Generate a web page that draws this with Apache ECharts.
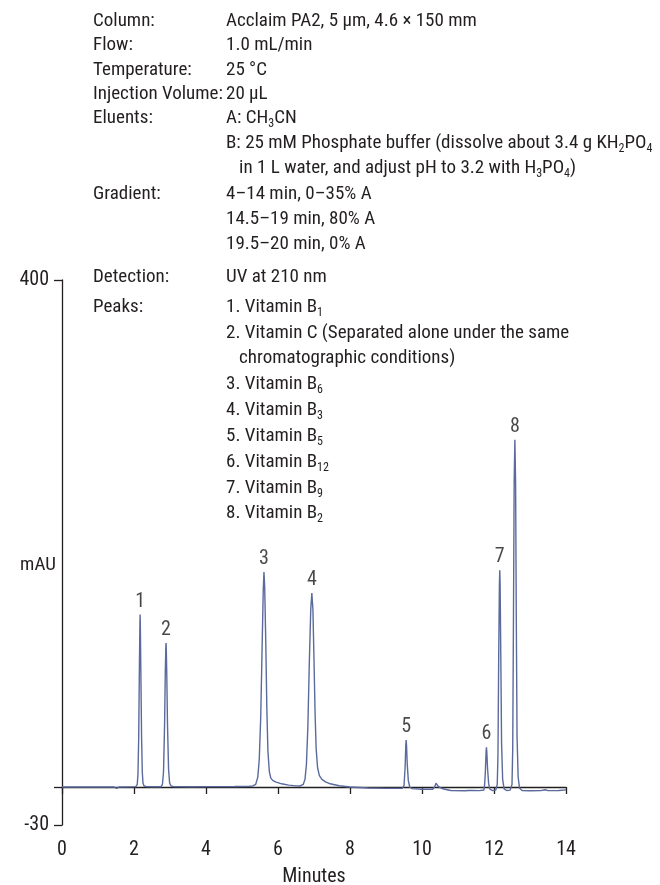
<!DOCTYPE html>
<html>
<head>
<meta charset="utf-8">
<style>
  html, body { margin: 0; padding: 0; background: #fff; }
  #chart { width: 660px; height: 885px; }
</style>
<script src="https://cdn.jsdelivr.net/npm/echarts@6/dist/echarts.min.js"></script>
</head>
<body>
<div id="chart"></div>
<script>
// Chromatogram of water-soluble vitamins, absorbance (mAU) vs retention time (min)

const xTicks = [0, 2, 4, 6, 8, 10, 12, 14];
const yTicks = [-30, 0, 400];
const yTickLabels = [-30, 400];

const peakNumbers = ['1', '2', '3', '4', '5', '6', '7', '8'];
const peakTimes = [2.17, 2.89, 5.61, 6.94, 9.56, 11.79, 12.16, 12.58];
const peakHeights = [136, 113.5, 169.5, 153, 37, 31.3, 171, 274];

// detector trace: [minutes, mAU]
const trace = [
  [0, 0], [0.5, 0], [1.0, 0], [1.45, 0], [1.52, -1.2], [1.58, 0], [1.9, 0.1], [2.05, 0.3],
  [2.09, 2], [2.11, 10], [2.13, 38], [2.15, 95], [2.165, 130], [2.17, 136], [2.175, 130],
  [2.19, 92], [2.21, 40], [2.23, 12], [2.25, 3], [2.28, 0.8], [2.35, 0.3],
  [2.5, 0.2], [2.75, 0.2], [2.79, 2], [2.82, 12], [2.85, 50], [2.87, 92], [2.885, 111],
  [2.89, 113.5], [2.895, 111], [2.91, 90], [2.93, 50], [2.96, 14], [2.99, 3], [3.03, 0.8],
  [3.1, 0.3], [3.6, 0.2], [4.2, 0.3], [4.8, 0.4], [5.2, 0.6], [5.25, 1.4], [5.3, 0.8],
  [5.38, 2], [5.44, 8], [5.48, 22], [5.52, 55], [5.56, 112], [5.59, 155], [5.61, 169.5],
  [5.63, 158], [5.66, 115], [5.69, 62], [5.72, 28], [5.76, 12], [5.8, 7], [5.86, 5],
  [5.95, 3.8], [6.1, 2.5], [6.3, 1.5], [6.5, 0.9], [6.62, 0.8],
  [6.7, 2], [6.75, 6], [6.79, 18], [6.83, 48], [6.87, 98], [6.91, 140], [6.94, 153],
  [6.97, 140], [7.0, 100], [7.03, 58], [7.06, 30], [7.1, 15], [7.15, 9], [7.22, 6],
  [7.32, 4], [7.45, 2.5], [7.7, 1], [8.0, 0], [8.5, -0.8], [9.0, -1.1], [9.45, -1.1],
  [9.5, 1], [9.53, 15], [9.55, 33], [9.56, 37], [9.57, 33], [9.59, 18], [9.62, 5],
  [9.66, 0], [9.72, -1.3], [10.0, -1.8], [10.3, -1.8], [10.35, 0], [10.39, 3],
  [10.43, 1.2], [10.5, -0.5], [10.6, -1.6], [10.8, -2.8], [11.2, -3], [11.3, -2.8],
  [11.33, -1.8], [11.36, -2.8], [11.6, -2.9], [11.72, -2.4],
  [11.74, 2], [11.76, 12], [11.78, 28], [11.79, 31.3], [11.8, 28], [11.82, 15],
  [11.85, 3], [11.88, -1.5], [11.95, -2.8], [12.05, -2.5],
  [12.09, 2], [12.11, 25], [12.13, 100], [12.15, 160], [12.16, 171], [12.17, 160],
  [12.19, 100], [12.21, 35], [12.24, 6], [12.28, -1.5], [12.35, -2.8], [12.45, -2.5],
  [12.5, 2], [12.52, 30], [12.54, 130], [12.56, 240], [12.58, 274], [12.6, 240],
  [12.62, 130], [12.64, 40], [12.67, 8], [12.71, -1], [12.78, -2.8], [13.0, -3],
  [13.3, -2.9], [13.42, -2.2], [13.5, -2.9], [13.8, -2.8], [14.0, -2.3]
];

// chromatographic conditions: [heading, text]; {s|…} marks a subscript
const conditions = [
  ['Column:', 'Acclaim PA2, 5 µm, 4.6 × 150 mm'],
  ['Flow:', '1.0 mL/min'],
  ['Temperature:', '25 °C'],
  ['Injection Volume:', '20 µL'],
  ['Eluents:', 'A: CH{s|3}CN'],
  ['', 'B: 25 mM Phosphate buffer (dissolve about 3.4 g KH{s|2}PO{s|4}'],
  ['', '   in 1 L water, and adjust pH to 3.2 with H{s|3}PO{s|4})'],
  ['Gradient:', '4–14 min, 0–35% A'],
  ['', '14.5–19 min, 80% A'],
  ['', '19.5–20 min, 0% A'],
  ['Detection:', 'UV at 210 nm'],
  ['Peaks:', '1. Vitamin B{s|1}'],
  ['', '2. Vitamin C (Separated alone under the same'],
  ['', '   chromatographic conditions)'],
  ['', '3. Vitamin B{s|6}'],
  ['', '4. Vitamin B{s|3}'],
  ['', '5. Vitamin B{s|5}'],
  ['', '6. Vitamin B{s|12}'],
  ['', '7. Vitamin B{s|9}'],
  ['', '8. Vitamin B{s|2}']
];

const FONT = "'Liberation Sans Narrow', 'Roboto Condensed', 'Liberation Sans', Roboto, sans-serif";
const INK = '#231f20';
const rowY = [21, 45, 70, 94, 118, 143, 168, 194, 219, 244, 277, 307, 333, 358, 384, 410, 436, 462, 488, 513];

function blockText(x, y, str) {
  return {
    type: 'text', x: x, y: y, silent: true,
    style: {
      text: str, font: '19px ' + FONT, fill: INK, verticalAlign: 'middle',
      lineHeight: 24,
      rich: {
        s: { fontSize: 12, fontFamily: FONT, fill: INK, verticalAlign: 'bottom', lineHeight: 24 }
      }
    }
  };
}

const textElements = [];
conditions.forEach(function (row, i) {
  if (row[0]) textElements.push(blockText(93, rowY[i], row[0]));
  textElements.push(blockText(226, rowY[i], row[1]));
});
const yName = blockText(38, 565, 'mAU');
yName.style.align = 'center';
textElements.push(yName);

const chart = echarts.init(document.getElementById('chart'), null, { renderer: 'canvas' });
chart.setOption({
  animation: false,
  backgroundColor: '#fff',
  grid: { left: 62, right: 94, top: 280, bottom: 60, containLabel: false, outerBoundsMode: 'none' },
  xAxis: {
    type: 'value', min: 0, max: 14, interval: 2,
    name: 'Minutes', nameLocation: 'middle', nameGap: 42,
    nameTextStyle: { fontFamily: FONT, fontSize: 20, color: INK },
    axisLine: { lineStyle: { color: INK, width: 1.3 } },
    axisTick: { show: true, length: 7, lineStyle: { color: INK, width: 1.3 }, customValues: xTicks },
    axisLabel: { fontFamily: FONT, fontSize: 20, color: INK, margin: 15, customValues: xTicks },
    splitLine: { show: false }
  },
  yAxis: {
    type: 'value', min: -30, max: 400,
    axisLine: { show: true, lineStyle: { color: INK, width: 1.3 } },
    axisTick: { show: true, length: 8, lineStyle: { color: INK, width: 1.3 }, customValues: yTicks },
    axisLabel: { fontFamily: FONT, fontSize: 20, color: INK, margin: 13, customValues: yTickLabels },
    splitLine: { show: false }
  },
  graphic: textElements,
  series: [
    {
      type: 'line', data: trace, showSymbol: false, symbol: 'none',
      lineStyle: { color: '#5a6a9c', width: 1.4 }, silent: true
    },
    {
      type: 'scatter', symbolSize: 0, silent: true,
      data: peakTimes.map(function (t, i) { return [t, peakHeights[i], peakNumbers[i]]; }),
      label: {
        show: true, position: 'top', distance: 3,
        formatter: function (p) { return p.value[2]; },
        fontFamily: FONT, fontSize: 20, color: '#1a1a1a'
      }
    }
  ]
});
</script>
</body>
</html>
